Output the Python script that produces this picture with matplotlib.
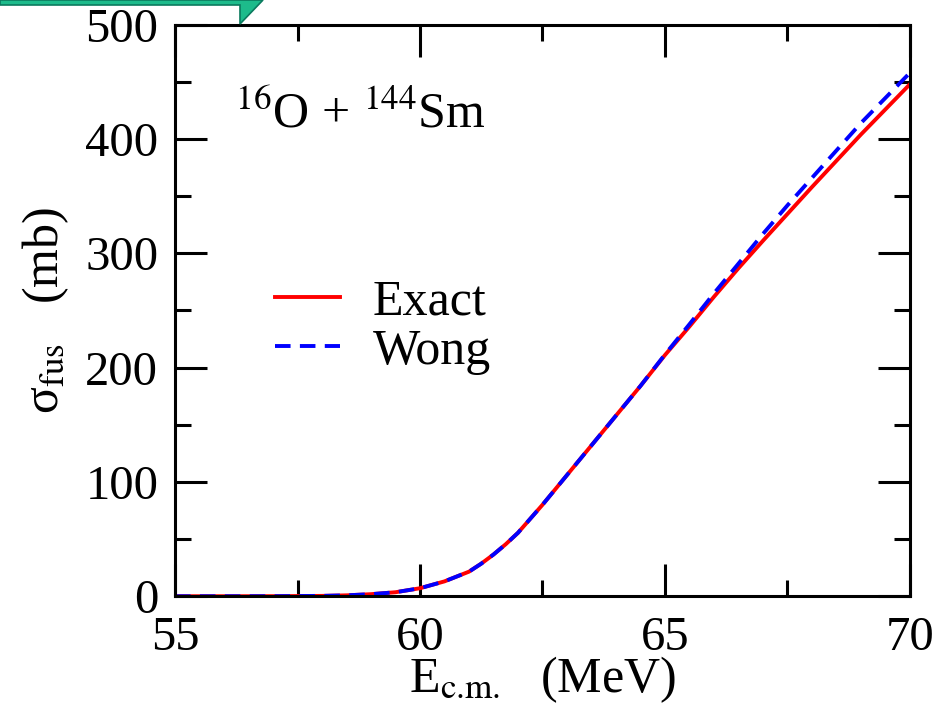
import matplotlib
matplotlib.use("Agg")
import matplotlib.pyplot as plt
import matplotlib.ticker as ticker
from matplotlib.patches import Polygon

# cross sections (mb)
energy = [55.0, 56.0, 57.0, 58.0, 58.5, 59.0, 59.5, 60.0, 60.5, 61.0, 61.25, 61.5,
          61.75, 62.0, 62.5, 63.0, 63.5, 64.0, 64.5, 65.0, 65.5, 66.0, 66.5, 67.0,
          67.5, 68.0, 68.5, 69.0, 69.5, 70.0]
sigma_exact = [0.0, 0.0, 0.05, 0.3, 0.8, 1.8, 3.5, 7.0, 13.0, 21.5, 28.5, 36.5,
               45.5, 55.5, 80.0, 106.0, 132.0, 158.0, 184.0, 211.0, 236.0, 262.0, 287.0, 311.0,
               334.5, 358.0, 381.0, 404.0, 426.0, 448.0]
sigma_wong = [0.0, 0.0, 0.05, 0.3, 0.8, 1.8, 3.5, 7.0, 13.0, 21.5, 28.5, 36.5,
              45.5, 55.5, 80.0, 106.0, 132.0, 158.0, 184.0, 211.5, 238.0, 265.0, 291.0, 317.0,
              342.0, 366.0, 390.0, 414.0, 436.0, 458.0]

plt.rcParams['font.family'] = ['Liberation Serif', 'DejaVu Serif']
plt.rcParams['mathtext.fontset'] = 'stix'

fig = plt.figure(figsize=(9.41, 7.28), dpi=100)
ax = fig.add_axes([0.186, 0.181, 0.781, 0.785])

ax.plot(energy, sigma_exact, color='red', lw=2.8, label='Exact')
ax.plot(energy, sigma_wong, color='blue', lw=2.8, dashes=(4, 2.4), label='Wong')

ax.set_xlim(55, 70)
ax.set_ylim(0, 500)
ax.xaxis.set_major_locator(ticker.MultipleLocator(5))
ax.xaxis.set_minor_locator(ticker.MultipleLocator(2.5))
ax.yaxis.set_major_locator(ticker.MultipleLocator(100))
ax.yaxis.set_minor_locator(ticker.MultipleLocator(50))
ax.tick_params(which='both', direction='in', top=True, right=True, width=2.2, labelsize=35)
ax.tick_params(which='major', length=23)
ax.tick_params(which='minor', length=11.5)
ax.tick_params(axis='x', which='major', pad=14)
ax.tick_params(axis='y', which='major', pad=12)
for s in ax.spines.values():
    s.set_linewidth(2.2)

ax.set_xlabel(r'E$_{\text{c.m.}}$   (MeV)', fontsize=36, labelpad=-4)
ax.set_ylabel(r'σ$_{\mathrm{fus}}$   (mb)', fontsize=36, labelpad=10)

ax.text(0.082, 0.82, r'$^{16}$O + $^{144}$Sm', transform=ax.transAxes,
        fontsize=36, va='baseline', ha='left')

ax.legend(loc='upper left', bbox_to_anchor=(0.136, 0.555), frameon=False,
          fontsize=36, handlelength=1.3, handletextpad=0.65, labelspacing=0.05,
          borderpad=0, borderaxespad=0)

# slide decoration in the top-left corner
W, H = 941.0, 728.0
pts = [(0, 0), (263, 0), (240, 24), (240, 5), (0, 5)]
fig.patches.append(Polygon([(x / W, 1 - y / H) for x, y in pts], closed=True,
                           transform=fig.transFigure, facecolor='#1dbb8b',
                           edgecolor='#0b7a5e', lw=1.2))

fig.savefig('out.png', dpi=100)
